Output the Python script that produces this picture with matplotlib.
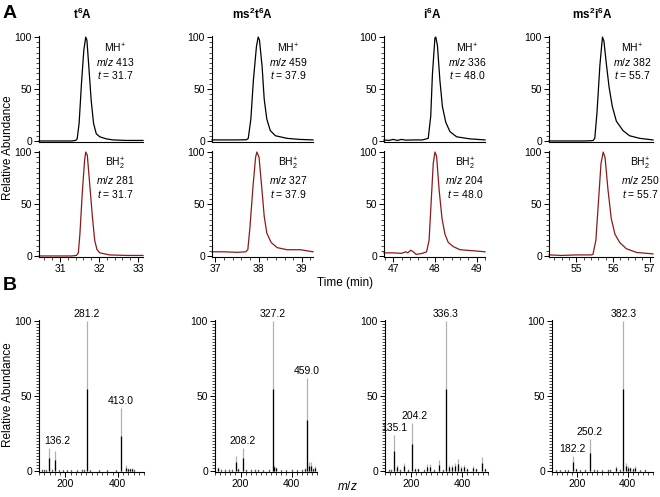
import matplotlib
matplotlib.use("Agg")
import matplotlib.pyplot as plt
from matplotlib.ticker import MultipleLocator

plt.rcParams['font.family'] = ['Liberation Sans', 'DejaVu Sans']
plt.rcParams['mathtext.fontset'] = 'custom'
plt.rcParams['mathtext.rm'] = 'Liberation Sans'
plt.rcParams['mathtext.it'] = 'Liberation Sans:italic'
plt.rcParams['mathtext.bf'] = 'Liberation Sans:bold'

# ---- panel A: extracted ion chromatograms ----
titles = [r'$\mathbf{t^6A}$', r'$\mathbf{ms^2t^6A}$', r'$\mathbf{i^6A}$', r'$\mathbf{ms^2i^6A}$']
mh_mz = [413, 459, 336, 382]
bh_mz = [281, 327, 204, 250]
ret_t = ['31.7', '37.9', '48.0', '55.7']
t_lims = [(30.46, 33.13), (36.92, 39.26), (46.78, 49.2), (54.25, 57.09)]
t_ticks = [[31, 32, 33], [37, 38, 39], [47, 48, 49], [55, 56, 57]]

t6a_mh_t = [30.46, 30.8, 31.1, 31.3, 31.40, 31.44, 31.49, 31.55, 31.61, 31.66, 31.69, 31.74, 31.80, 31.86, 31.93, 32.02, 32.19, 32.36, 32.7, 33.13]
t6a_mh_y = [0, 0, 0, 0, 0.5, 2, 17, 55, 87, 100, 97, 71, 39, 17, 7, 4, 2, 1, 0.5, 0.5]
t6a_bh_t = [30.46, 30.8, 31.1, 31.3, 31.42, 31.47, 31.51, 31.57, 31.63, 31.66, 31.70, 31.76, 31.83, 31.89, 31.95, 32.02, 32.27, 32.7, 33.13]
t6a_bh_y = [0, 0, 0, 0, 0.5, 3, 21, 60, 92, 100, 97, 70, 38, 15, 6, 3, 1, 0.5, 0.5]

ms2t6a_mh_t = [36.92, 37.2, 37.5, 37.72, 37.76, 37.82, 37.88, 37.95, 37.99, 38.02, 38.08, 38.13, 38.19, 38.27, 38.39, 38.66, 38.95, 39.26]
ms2t6a_mh_y = [1, 1, 1, 1.2, 2.5, 21, 59, 91, 100, 97, 72, 40, 21, 10, 5, 2.5, 1.5, 1]
ms2t6a_bh_t = [36.92, 37.2, 37.5, 37.7, 37.75, 37.80, 37.87, 37.93, 37.96, 38.01, 38.07, 38.13, 38.19, 38.29, 38.43, 38.66, 38.97, 39.26]
ms2t6a_bh_y = [4, 4, 3.5, 4, 6, 28, 67, 95, 100, 95, 67, 38, 22, 13, 8, 6, 6, 4]

i6a_mh_t = [46.78, 46.9, 47.0, 47.1, 47.2, 47.3, 47.5, 47.7, 47.84, 47.90, 47.94, 48.00, 48.02, 48.06, 48.12, 48.18, 48.26, 48.36, 48.52, 48.84, 49.2]
i6a_mh_y = [1, 0.5, 1.5, 0.5, 1.5, 0.8, 1, 1, 2.5, 24, 64, 99, 100, 92, 58, 33, 18, 9, 4, 2, 1]
i6a_bh_t = [46.78, 47.0, 47.2, 47.3, 47.35, 47.42, 47.48, 47.55, 47.7, 47.80, 47.86, 47.91, 47.96, 48.00, 48.04, 48.10, 48.17, 48.24, 48.32, 48.44, 48.6, 48.92, 49.2]
i6a_bh_y = [3, 3, 2.5, 4, 3, 5.5, 4, 1.5, 2.5, 4, 15, 52, 89, 100, 96, 64, 36, 21, 13, 9, 6, 5, 4]

ms2i6a_mh_t = [54.25, 54.7, 55.2, 55.45, 55.50, 55.56, 55.64, 55.71, 55.75, 55.82, 55.89, 55.98, 56.09, 56.27, 56.45, 56.73, 57.09]
ms2i6a_mh_y = [0, 0, 0, 0.3, 2.5, 27, 73, 100, 96, 73, 52, 33, 19, 10, 5, 2.5, 1]
ms2i6a_bh_t = [54.25, 54.6, 55.0, 55.4, 55.45, 55.53, 55.60, 55.67, 55.73, 55.78, 55.86, 55.95, 56.05, 56.18, 56.36, 56.64, 57.09]
ms2i6a_bh_y = [1, 0.5, 1, 1, 1.5, 15, 52, 89, 100, 95, 64, 36, 21, 13, 7, 3.4, 2]

mh_curves = [(t6a_mh_t, t6a_mh_y), (ms2t6a_mh_t, ms2t6a_mh_y), (i6a_mh_t, i6a_mh_y), (ms2i6a_mh_t, ms2i6a_mh_y)]
bh_curves = [(t6a_bh_t, t6a_bh_y), (ms2t6a_bh_t, ms2t6a_bh_y), (i6a_bh_t, i6a_bh_y), (ms2i6a_bh_t, ms2i6a_bh_y)]

# ---- panel B: mass spectra ----
t6a_mz = [110, 118, 125, 136.2, 148, 160, 175, 190, 205, 222, 245, 262, 270, 281.2, 295, 330, 360, 395, 413.0, 430, 440, 448, 456, 462]
t6a_int = [1, 0.8, 0.6, 15, 0.8, 13, 0.6, 0.5, 0.5, 0.5, 0.6, 1, 1.2, 100, 0.6, 0.4, 0.4, 0.5, 42, 3.5, 2, 1.5, 1.5, 1]
ms2t6a_mz = [112, 125, 140, 155, 168, 182, 190, 208.2, 222, 240, 255, 270, 290, 310, 327.2, 332, 340, 360, 380, 400, 420, 440, 452, 459.0, 470, 478, 486, 494]
ms2t6a_int = [2.5, 1, 0.8, 1, 0.8, 10, 1.5, 15, 1, 0.8, 1.2, 0.8, 0.6, 0.8, 100, 4, 2.5, 0.6, 0.6, 0.8, 0.6, 1, 1.5, 62, 6, 5.5, 2, 3]
i6a_mz = [115, 125, 135.1, 145, 160, 175, 190, 204.2, 215, 230, 250, 265, 275, 290, 310, 325, 336.3, 350, 360, 370, 385, 395, 405, 420, 440, 455, 475, 490]
i6a_int = [0.8, 1, 24, 4, 1, 5, 1, 32, 2, 2, 1, 4.5, 4.5, 1, 7, 1, 100, 4, 4, 5, 8, 3, 4, 1.5, 3, 2, 9, 2]
ms2i6a_mz = [115, 130, 150, 165, 182.2, 195, 210, 230, 250.2, 265, 280, 300, 320, 330, 355, 370, 382.3, 395, 400, 410, 420, 430, 450, 470]
ms2i6a_int = [0.5, 0.6, 0.5, 0.6, 10, 2, 0.5, 1, 21, 1, 0.5, 0.5, 1, 1, 3, 0.8, 100, 5, 3, 2.5, 2, 3, 0.6, 1]

spectra = [(t6a_mz, t6a_int), (ms2t6a_mz, ms2t6a_int), (i6a_mz, i6a_int), (ms2i6a_mz, ms2i6a_int)]
peak_labels = [[136.2, 281.2, 413.0], [208.2, 327.2, 459.0], [135.1, 204.2, 336.3], [182.2, 250.2, 382.3]]
label_shift = [[6, 0, 0], [0, 0, 0], [0, 2, 0], [0, 0, 0]]  # x nudge in points

W, H = 660, 497
fig = plt.figure(figsize=(6.6, 4.97), dpi=100)


def px_axes(l, r, top, bot):
    return fig.add_axes([l / W, 1 - bot / H, (r - l) / W, (bot - top) / H])


def style(ax, xmaj, xmin, ymin):
    for s in ['top', 'right']:
        ax.spines[s].set_visible(False)
    for s in ['left', 'bottom']:
        ax.spines[s].set_linewidth(0.8)
    ax.tick_params(which='major', direction='out', length=3.5, width=0.7, labelsize=7.5, pad=1.5)
    ax.tick_params(which='minor', direction='out', length=2, width=0.5)
    ax.xaxis.set_major_locator(MultipleLocator(xmaj))
    ax.xaxis.set_minor_locator(MultipleLocator(xmin))
    ax.yaxis.set_major_locator(MultipleLocator(50))
    ax.yaxis.set_minor_locator(MultipleLocator(ymin))
    ax.patch.set_alpha(0)


cols_a = [(39, 143), (212, 313), (384, 485), (549, 653)]
rows_a = [(36, 142), (151, 257)]
title_x = [83, 253, 432, 592]
lab_x_top = [0.73, 0.755, 0.82, 0.80]
lab_x_bot = [0.73, 0.755, 0.80, 0.88]

for i in range(4):
    l, r = cols_a[i]
    fig.text(title_x[i] / W, 1 - 14 / H, titles[i], ha='center', va='center', fontsize=8.5)
    for j, (curve, color) in enumerate([(mh_curves[i], 'black'), (bh_curves[i], '#8b1a1a')]):
        top, bot = rows_a[j]
        ax = px_axes(l, r, top, bot)
        ax.plot(curve[0], curve[1], color=color, lw=0.9, clip_on=False)
        ax.set_xlim(*t_lims[i])
        ax.set_ylim(-1, 101)
        style(ax, 1, 0.2, 5)
        ax.set_xticks(t_ticks[i])
        if j == 0:
            ax.tick_params(axis='x', which='both', labelbottom=False, length=0)
            txt = ['MH$^{+}$', '$m/z$ %d' % mh_mz[i], '$t$ = ' + ret_t[i]]
            xs = lab_x_top[i]
            ys = [89, 76, 63]
        else:
            txt = ['BH$_2^{+}$', '$m/z$ %d' % bh_mz[i], '$t$ = ' + ret_t[i]]
            xs = lab_x_bot[i]
            ys = [89, 73, 60]
        for s, yv in zip(txt, ys):
            ax.text(xs, yv, s, transform=ax.get_yaxis_transform(), ha='center', va='center', fontsize=7.5)

cols_b = [(39, 144), (215, 317), (385, 488), (552, 653)]
for i in range(4):
    l, r = cols_b[i]
    ax = px_axes(l, r, 320, 472)
    mz, inten = spectra[i]
    ax.vlines(mz, 0, inten, color='#b0b0b0', lw=0.9)
    ax.vlines(mz, 0, [v * 0.55 for v in inten], color='black', lw=0.9)
    for p, dx in zip(peak_labels[i], label_shift[i]):
        v = inten[mz.index(p)]
        ax.annotate('%.1f' % p, (p, v), xytext=(dx, 1.5), textcoords='offset points',
                    ha='center', va='bottom', fontsize=7.5)
    ax.set_xlim(100, 500)
    ax.set_ylim(-1, 101)
    style(ax, 200, 20, 2)
    ax.set_xticks([200, 400])

fig.text(3 / W, 1 - 14 / H, 'A', fontsize=14, fontweight='bold', va='center', ha='left')
fig.text(3 / W, 1 - 285 / H, 'B', fontsize=14, fontweight='bold', va='center', ha='left')
fig.text(8 / W, 1 - 148 / H, 'Relative Abundance', rotation=90, fontsize=8.5, ha='center', va='center')
fig.text(8 / W, 1 - 395 / H, 'Relative Abundance', rotation=90, fontsize=8.5, ha='center', va='center')
fig.text(345 / W, 1 - 283 / H, 'Time (min)', fontsize=8.5, ha='center', va='center')
fig.text(347 / W, 1 - 487 / H, '$m/z$', fontsize=8.5, ha='center', va='center')

fig.savefig('out.png', dpi=100)
